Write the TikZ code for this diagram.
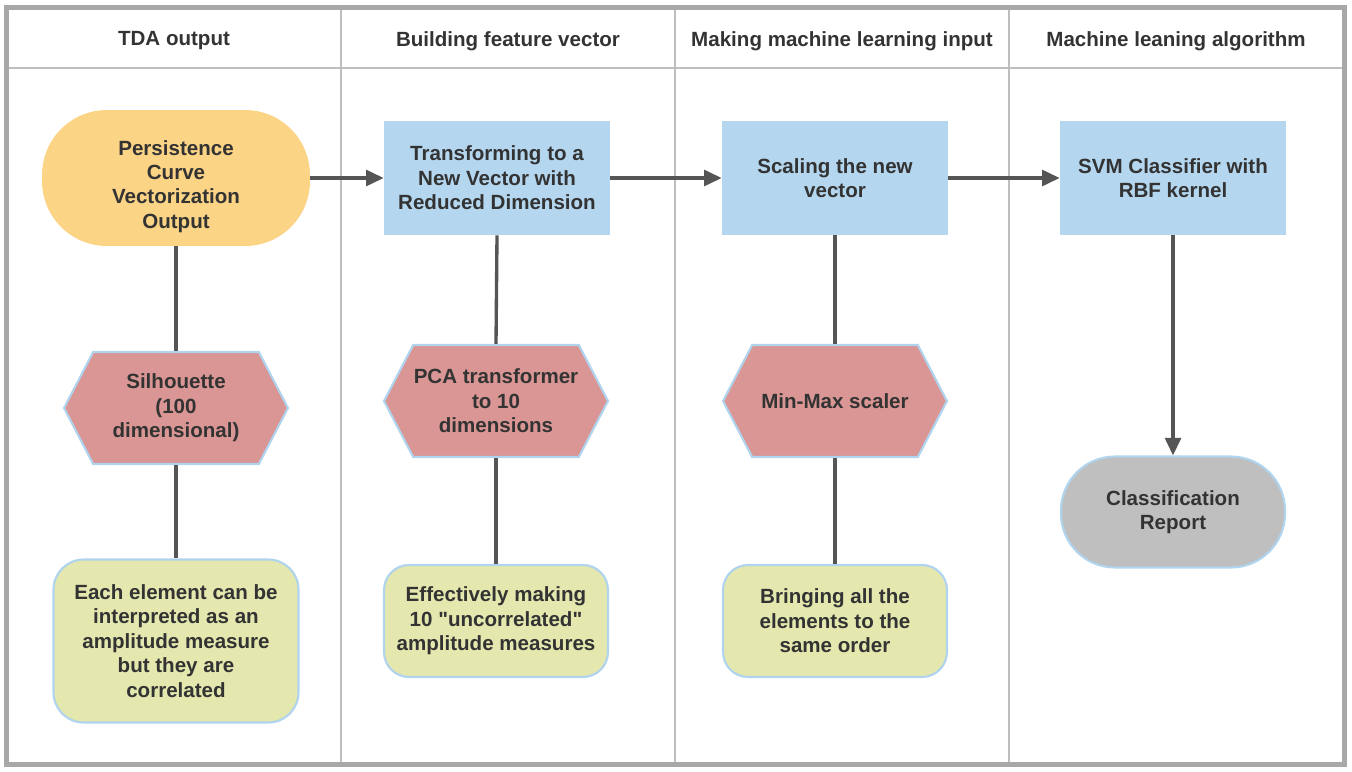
\documentclass[tikz,border=0pt]{standalone}
\usepackage{fontspec}
\setmainfont{Liberation Sans}[Ligatures=TeXOff]
\usetikzlibrary{arrows.meta,shapes.symbols}
\definecolor{frameg}{HTML}{A8A8A8}
\definecolor{laneg}{HTML}{BEBEBE}
\definecolor{inkg}{HTML}{333333}
\definecolor{lineg}{HTML}{555555}
\definecolor{termo}{HTML}{FBD486}
\definecolor{stepb}{HTML}{B4D7EF}
\definecolor{hexr}{HTML}{D99694}
\definecolor{notey}{HTML}{E4E7AE}
\definecolor{repg}{HTML}{BFBFBF}
\definecolor{edgeb}{HTML}{B0D4EE}
\tikzset{
  every node/.style={font=\bfseries\fontsize{11.7}{13.9}\selectfont, text=inkg, align=center, inner sep=0pt},
  termbox/.style={fill=termo, minimum width=5.36cm, minimum height=2.72cm, rounded corners=1.3cm},
  stepbox/.style={fill=stepb, minimum width=4.52cm, minimum height=2.28cm},
  hexbox/.style={signal, signal to=east and west, signal pointer angle=125, fill=hexr, draw=edgeb, line width=1.2pt, minimum width=4.48cm, minimum height=2.24cm},
  notebox/.style={fill=notey, draw=edgeb, line width=1.2pt, minimum width=4.48cm, minimum height=2.24cm, rounded corners=0.5cm},
  reportbox/.style={fill=repg, draw=edgeb, line width=1.2pt, minimum width=4.48cm, minimum height=2.22cm, rounded corners=1.08cm},
  link/.style={draw=lineg, line width=1.9pt},
  flow/.style={link, -{Triangle[length=10pt, width=9pt]}}
}
\begin{document}
\begin{tikzpicture}[x=0.02cm, y=-0.02cm]
			%%%%% START %%%%%
			\useasboundingbox (0, 0) rectangle (1352, 771);
			
			% lanes
			\draw[laneg, line width=0.9pt] (7, 68) -- (1344, 68);
			\draw[laneg, line width=0.9pt] (341, 7) -- (341, 764);
			\draw[laneg, line width=0.9pt] (675, 7) -- (675, 764);
			\draw[laneg, line width=0.9pt] (1009, 7) -- (1009, 764);
			\draw[frameg, line width=2.3pt] (6.5, 7.5) rectangle (1344.5, 764.5);
			
			\node (h1) at (174, 41) {TDA output};
			\node (h2) at (508, 41) {Building feature vector};
			\node (h3) at (842, 41) {Making machine learning input};
			\node (h4) at (1176, 41) {Machine leaning algorithm};
			
			% top row
			\node[termbox] (pcv) at (176, 178) {\rule{0pt}{18pt}Persistence\\Curve\\Vectorization\\Output};
			\node[stepbox] (trans) at (497, 178) {Transforming to a\\New Vector with\\Reduced Dimension};
			\node[stepbox] (scale) at (835, 178) {Scaling the new\\vector};
			\node[stepbox] (svm) at (1173, 178) {SVM Classifier with\\RBF kernel};
			
			% middle row
			\node[hexbox] (sil) at (176, 408) {Silhouette\\(100\\dimensional)};
			\node[hexbox] (pca) at (496, 401) {PCA transformer\\to 10\\dimensions};
			\node[hexbox] (mms) at (835, 401) {Min-Max scaler};
			\node[reportbox] (rep) at (1173, 512) {Classification\\Report};
			
			% bottom row
			\node[notebox, minimum width=4.9cm, minimum height=3.26cm, rounded corners=0.6cm] (n1) at (176, 641) {Each element can be\\interpreted as an\\amplitude measure\\but they are\\correlated};
			\node[notebox] (n2) at (496, 621) {Effectively making\\10 "uncorrelated"\\amplitude measures};
			\node[notebox] (n3) at (835, 621) {Bringing all the\\elements to the\\same order};
			
			\draw[flow] (pcv.east) -- (trans.west);
			\draw[flow] (trans.east) -- (scale.west);
			\draw[flow] (scale.east) -- (svm.west);
			\draw[flow] (svm.south) -- (rep.north);
			
			\draw[link] (pcv.south) -- (sil.north);
			\draw[link] (sil.south) -- (n1.north);
			\draw[link] (trans.south) -- (pca.north);
			\draw[link] (pca.south) -- (n2.north);
			\draw[link] (scale.south) -- (mms.north);
			\draw[link] (mms.south) -- (n3.north);
			
			%%%%% END %%%%%
		\end{tikzpicture}
\end{document}
